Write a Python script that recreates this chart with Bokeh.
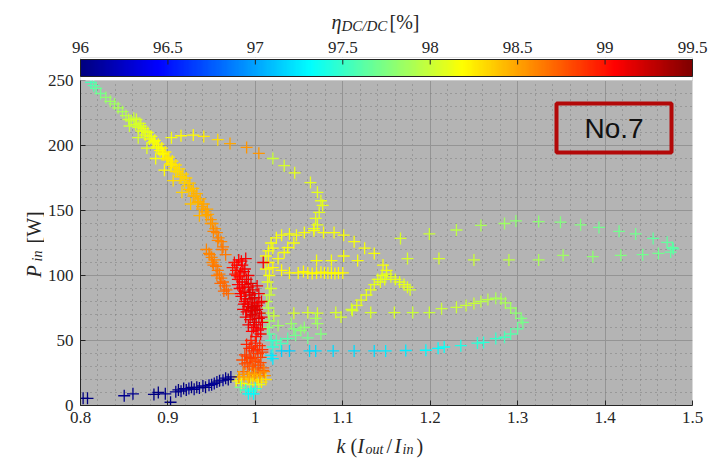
import numpy as np
from bokeh.plotting import figure
from bokeh.models import (LinearColorMapper, FixedTicker, NumeralTickFormatter, Label,
                          BoxAnnotation, ColumnDataSource, Range1d)
from bokeh.layouts import column, row
from bokeh.transform import linear_cmap
from bokeh.core.properties import value
from bokeh.embed import file_html
from bokeh.resources import INLINE

# ---------------- data (k = Iout/Iin, P_in [W], efficiency [%]) ----------------
tail_k = [0.803, 0.808, 0.850, 0.860, 0.884, 0.889, 0.897, 0.903, 0.909, 0.912, 0.915, 0.918, 0.921,
          0.924, 0.927, 0.930, 0.933, 0.936, 0.940, 0.943, 0.947, 0.950, 0.953, 0.956, 0.959, 0.963,
          0.966, 0.969, 0.972]
tail_p = [5.5, 5.5, 7.5, 9.0, 8.5, 10.0, 9.0, 2.5, 10.5, 12.0, 11.0, 13.0, 12.0, 13.0, 14.0, 12.5,
          14.0, 13.5, 15.0, 14.0, 15.5, 16.0, 17.0, 18.0, 19.0, 19.5, 21.0, 20.0, 22.0]
tail_eff = [96.0, 96.0, 96.05, 96.05, 96.0, 96.0, 96.05, 96.0, 96.05, 96.0, 96.05, 96.0, 96.05, 96.1,
            96.0, 96.05, 96.0, 96.1, 96.05, 96.0, 96.1, 96.05, 96.1, 96.05, 96.0, 96.1, 96.05, 96.0, 96.05]

top_k = [0.812, 0.815, 0.818, 0.823, 0.829, 0.834, 0.839, 0.843, 0.848, 0.852, 0.855]
top_p = [248.5, 246.0, 244.0, 240.0, 237.0, 234.0, 232.0, 229.0, 226.0, 223.0, 220.0]
top_eff = [97.55, 97.6, 97.65, 97.7, 97.8, 97.85, 97.85, 97.9, 97.9, 97.95, 98.0]

band_k = [0.858, 0.861, 0.863, 0.866, 0.868, 0.870, 0.872, 0.874, 0.877, 0.879, 0.881, 0.883, 0.885,
          0.887, 0.889, 0.891, 0.893, 0.895, 0.897, 0.899, 0.901, 0.903, 0.905, 0.907, 0.909, 0.911,
          0.913, 0.915, 0.917, 0.919, 0.921, 0.923, 0.925, 0.927, 0.929, 0.931, 0.933, 0.935, 0.937,
          0.939, 0.941, 0.943, 0.946, 0.949, 0.951, 0.954, 0.956, 0.958, 0.961, 0.963,
          0.947, 0.950, 0.951, 0.953, 0.955, 0.957, 0.959, 0.961, 0.963, 0.965, 0.967, 0.969]
band_p = [219, 221, 216, 214, 217, 211, 213, 208, 210, 205, 207, 202, 204, 199, 201, 196, 198, 193,
          195, 189, 191, 186, 188, 183, 185, 180, 182, 176, 178, 173, 175, 169, 171, 165, 167, 161,
          163, 157, 159, 153, 155, 149, 147, 143, 140, 136, 133, 129, 126, 122,
          117, 114, 110, 112, 107, 104, 101, 98, 95, 92, 89, 86]
band_eff = [98.0, 98.0, 98.05, 98.05, 98.05, 98.1, 98.1, 98.1, 98.1, 98.15, 98.15, 98.15, 98.15, 98.2,
            98.2, 98.2, 98.2, 98.2, 98.25, 98.25, 98.25, 98.25, 98.25, 98.3, 98.3, 98.3, 98.3,
            98.35, 98.35, 98.35, 98.35, 98.4, 98.4, 98.4, 98.4, 98.45, 98.45, 98.45, 98.45, 98.5, 98.5,
            98.5, 98.5, 98.55, 98.55, 98.55, 98.6, 98.6, 98.6, 98.65,
            98.6, 98.6, 98.6, 98.6, 98.65, 98.65, 98.65, 98.65, 98.7, 98.7, 98.7, 98.7]

band2_k = [0.864, 0.869, 0.874, 0.879, 0.884, 0.889, 0.894, 0.899, 0.904, 0.909, 0.914, 0.919, 0.924,
           0.929, 0.934, 0.939, 0.944, 0.949, 0.945, 0.952, 0.957, 0.962, 0.966,
           0.856, 0.866, 0.876, 0.886, 0.896, 0.906, 0.916, 0.926, 0.936,
           0.944, 0.948, 0.952, 0.956, 0.960, 0.964]
band2_p = [220, 215, 211, 207, 203, 198, 194, 190, 185, 180, 176, 171, 166, 161, 156, 151, 146, 140,
           151, 134, 127, 120, 116,
           215, 206, 198, 190, 181, 173, 164, 155, 146,
           120, 116, 108, 100, 94, 88]
band2_eff = [98.05, 98.05, 98.1, 98.1, 98.15, 98.15, 98.2, 98.25, 98.25, 98.3, 98.35, 98.35, 98.4,
             98.45, 98.45, 98.5, 98.5, 98.55, 98.5, 98.6, 98.6, 98.65, 98.65,
             98.0, 98.05, 98.1, 98.15, 98.2, 98.3, 98.35, 98.4, 98.45,
             98.6, 98.6, 98.65, 98.65, 98.7, 98.7]

red_k = [0.976, 0.981, 0.985, 1.009, 0.978, 0.983, 0.988, 0.992, 0.980, 0.985, 0.990, 0.995, 0.982,
         0.987, 0.992, 0.997, 1.002, 0.984, 0.989, 0.994, 0.999, 1.004, 0.987, 0.992, 0.997, 1.002,
         1.007, 0.990, 0.995, 1.000, 1.005, 0.994, 0.999, 1.004, 1.008, 0.998, 1.003, 1.006, 1.001,
         0.979, 0.996, 0.988,
         0.974, 0.979, 0.984, 0.989, 0.977, 0.982, 0.987, 0.980, 0.985, 0.983, 0.988, 0.993, 0.986,
         0.991, 0.996, 0.989, 0.994, 0.999, 1.004, 0.992, 0.997, 1.002, 1.007, 0.996, 1.001, 1.006]
red_p = [110, 112, 108, 110, 104, 102, 105, 100, 97, 95, 97, 94, 90, 88, 91, 89, 92, 84, 82, 85, 83,
         86, 78, 76, 79, 77, 80, 72, 70, 73, 71, 66, 64, 67, 64, 60, 58, 55, 53, 100, 75, 93,
         106, 108, 111, 113, 101, 99, 103, 93, 91, 86, 80, 87, 74, 78, 82, 68, 73, 76, 79, 62, 69,
         74, 68, 57, 62, 59]
red_eff = [99.0, 99.05, 99.05, 99.1, 99.0, 99.05, 99.1, 99.1, 99.05, 99.1, 99.1, 99.15, 99.05, 99.1,
           99.1, 99.15, 99.1, 99.05, 99.1, 99.15, 99.15, 99.1, 99.1, 99.15, 99.15, 99.15, 99.1, 99.1,
           99.15, 99.15, 99.15, 99.1, 99.15, 99.15, 99.1, 99.1, 99.1, 99.05, 99.0, 99.0, 99.2, 99.1,
           99.0, 99.05, 99.05, 99.1, 99.0, 99.05, 99.1, 99.05, 99.1, 99.05, 99.1, 99.15, 99.1, 99.1,
           99.15, 99.1, 99.15, 99.15, 99.1, 99.1, 99.15, 99.15, 99.1, 99.05, 99.1, 99.05]

base_k = [0.995, 1.000, 1.005, 0.993, 0.998, 1.003, 1.008, 0.990, 0.995, 1.000, 1.006, 0.988, 0.993,
          0.998, 1.004, 1.009, 0.986, 0.991, 0.996, 1.001, 1.006, 1.011, 0.982, 0.987, 0.992, 0.997,
          1.002, 1.007, 1.012, 0.978, 0.984, 0.994, 1.004, 0.983, 0.989, 0.995, 1.000, 0.992, 0.998,
          0.990, 0.996, 1.002, 1.008, 0.985, 0.991, 0.997, 1.003, 1.009, 0.988, 0.994, 1.000, 1.006,
          0.981, 0.987, 0.993, 0.999, 1.005, 1.010]
base_p = [50, 48, 46, 44, 42, 40, 43, 38, 36, 34, 37, 32, 30, 28, 31, 29, 26, 24, 25, 23, 25, 23, 22,
          20, 21, 19, 20, 18, 20, 19, 17, 16, 16, 14, 12, 11, 13, 9, 9,
          47, 45, 43, 41, 35, 33, 31, 29, 27, 39, 37, 35, 33, 22, 24, 22, 24, 22, 26]
base_eff = [98.95, 98.95, 98.9, 98.9, 98.9, 98.85, 98.9, 98.85, 98.85, 98.8, 98.85, 98.8, 98.75, 98.75,
            98.8, 98.75, 98.7, 98.65, 98.6, 98.6, 98.6, 98.55, 98.45, 98.4, 98.35, 98.3, 98.3, 98.25,
            98.3, 98.2, 98.15, 98.1, 98.1, 97.7, 97.5, 97.4, 97.5, 97.3, 97.3,
            98.95, 98.9, 98.9, 98.85, 98.8, 98.8, 98.75, 98.75, 98.7, 98.85, 98.85, 98.8, 98.8, 98.5,
            98.55, 98.5, 98.5, 98.5, 98.6]

stem_k = [1.014, 1.018, 1.016, 1.013, 1.015, 1.015, 1.016, 1.014, 1.016, 1.018, 1.020, 1.018, 1.020]
stem_p = [95, 90, 85, 80, 75, 71, 65, 60, 55, 50, 45, 38.5, 36]
stem_eff = [98.1, 98.05, 98.0, 97.95, 97.95, 97.95, 97.85, 97.8, 97.65, 97.5, 97.45, 97.25, 97.25]

mid_k = [1.026, 1.041, 1.052, 1.056, 1.060, 1.046, 1.037, 1.029, 1.024, 1.071, 1.075, 1.069, 1.044]
mid_p = [61.5, 63, 57.7, 60, 52, 54, 51.5, 47.7, 50, 63, 55, 67, 59]
mid_eff = [97.85, 97.85, 97.8, 97.8, 97.7, 97.7, 97.6, 97.55, 97.6, 97.85, 97.75, 97.9, 97.75]

low_k = [1.030, 1.039, 1.062, 1.069, 1.089, 1.113, 1.136, 1.149, 1.172, 1.195, 1.209, 1.216, 1.235,
         1.254, 1.261, 1.275, 1.285, 1.292, 1.300, 1.306, 1.304, 1.298, 1.292, 1.286, 1.281, 1.275,
         1.266, 1.258, 1.250, 1.241, 1.230, 1.213, 1.199, 1.180, 1.159, 1.132, 1.111, 1.098, 1.092,
         1.071, 1.060, 1.044, 1.021]
low_p = [42, 42, 42, 42, 42, 42, 42, 42, 42.3, 42.5, 44, 45, 46, 48, 48.5, 51.5, 52.5, 55, 59, 64, 67,
         71, 75, 79, 82, 82.5, 81.5, 80, 78.5, 77, 75.5, 74.5, 71.5, 71.5, 71.5, 71.5, 73, 68, 71.5,
         71, 71.5, 71, 69]
low_eff = [97.15, 97.15, 97.2, 97.2, 97.2, 97.2, 97.2, 97.25, 97.25, 97.3, 97.3, 97.35, 97.4, 97.45,
           97.45, 97.5, 97.55, 97.6, 97.65, 97.7, 97.75, 97.8, 97.85, 97.9, 97.9, 97.9, 97.95, 97.95,
           98.0, 98.0, 98.0, 98.0, 98.0, 98.0, 98.05, 98.05, 98.05, 98.05, 98.05, 98.05, 98.05, 98.05,
           98.0]

hump_k = [1.140, 1.145, 1.150, 1.155, 1.160, 1.165, 1.170, 1.174, 1.177, 1.143, 1.148, 1.136, 1.132,
          1.127, 1.121, 1.116, 1.110]
hump_p = [97, 100, 101, 99, 97, 95, 93, 91, 89, 95, 97, 93, 89, 85, 81, 77, 74]
hump_eff = [98.1, 98.1, 98.1, 98.1, 98.1, 98.1, 98.1, 98.1, 98.05, 98.1, 98.1, 98.1, 98.1, 98.1, 98.1,
            98.1, 98.05]

midloop_k = [1.012, 1.015, 1.018, 1.024, 1.030, 1.039, 1.047, 1.056, 1.067, 1.078, 1.090, 1.101,
             1.113, 1.125, 1.136, 1.146, 1.150,
             1.015, 1.020, 1.030, 1.039, 1.049, 1.055, 1.060, 1.065, 1.070, 1.075, 1.079, 1.083,
             1.087, 1.091, 1.095, 1.100,
             1.037, 1.044, 1.033, 1.026, 1.070, 1.087, 1.101, 1.117, 1.020, 1.012, 1.016]
midloop_p = [115, 119, 125, 129, 131, 132, 131, 133, 134.5, 133, 133, 131, 126, 121, 117, 108, 104,
             110, 106, 104, 102, 102, 103, 102, 101.5, 102, 102.5, 102, 102, 102, 101.5, 102, 102,
             121.5, 125, 117.7, 113, 111.5, 111.5, 115, 111.5, 121, 105, 100]
midloop_eff = [98.15] * 17 + [98.2] * 16 + [98.15] * 11

right_k = [1.166, 1.199, 1.230, 1.258, 1.285, 1.298, 1.324, 1.349, 1.372, 1.393, 1.416, 1.435, 1.455,
           1.471, 1.477, 1.478,
           1.475, 1.461, 1.443, 1.418, 1.386, 1.352, 1.324, 1.290, 1.250, 1.210, 1.174]
right_p = [128.5, 132, 135, 138.5, 140, 142, 141.5, 141, 139, 137, 134, 132, 128.5, 125.5, 121.5,
           120.5,
           118, 117, 116, 115.5, 114.5, 115.5, 112, 112, 112, 113, 113]
right_eff = [98.05, 98.0, 97.95, 97.9, 97.85, 97.8, 97.8, 97.75, 97.75, 97.7, 97.7, 97.7, 97.65, 97.65,
             97.65, 97.6,
             97.65, 97.7, 97.7, 97.75, 97.8, 97.85, 97.9, 97.95, 98.0, 98.05, 98.05]

upper_k = [0.904, 0.915, 0.929, 0.941, 0.957, 0.971, 0.990, 1.004, 1.020, 1.033, 1.045, 1.063, 1.071,
           1.075, 1.077, 1.073, 1.069, 1.071, 1.067]
upper_p = [206, 207.5, 208, 207, 204.5, 201.5, 198.5, 194, 190, 184.5, 179, 171.5, 164, 157.5, 154,
           148.5, 144, 139, 136]
upper_eff = [98.15, 98.2, 98.2, 98.25, 98.3, 98.5, 98.55, 98.55, 98.0, 98.05, 98.1, 98.1, 98.1, 98.1,
             98.1, 98.1, 98.1, 98.1, 98.1]

cbar_ticks = [96, 96.5, 97, 97.5, 98, 98.5, 99, 99.5]
x_ticks = [0.8, 0.9, 1.0, 1.1, 1.2, 1.3, 1.4, 1.5]
y_ticks = [0, 50, 100, 150, 200, 250]
EFF_LO, EFF_HI = 96.0, 99.5
K_LO, K_HI = 0.8, 1.5
P_LO, P_HI = 0, 250


# ---------------- styling helpers ----------------
def jet(n=256):
    cols = []
    for i in range(n):
        v = i / (n - 1)
        r = min(max(1.5 - abs(4 * v - 3), 0), 1)
        g = min(max(1.5 - abs(4 * v - 2), 0), 1)
        b = min(max(1.5 - abs(4 * v - 1), 0), 1)
        cols.append("#%02x%02x%02x" % (round(r * 255), round(g * 255), round(b * 255)))
    return cols


JET = jet()
mapper = LinearColorMapper(palette=JET, low=EFF_LO, high=EFF_HI)
SERIF = "Liberation Serif"
TXT = "#262626"

# layout geometry (window pixels)
FL, FR = 80, 692          # plot frame left / right
FT, FB = 80, 405          # plot area top / bottom (P = 250 / 0)
TOP_H = 57                # strip above the main figure (colour-bar labels, title)
MAIN_TOP = 57             # main figure frame top (colour bar drawn inside it)
MAIN_BOT_BORDER = 24
YL_W = 44
XL_H = 462 - (FB + MAIN_BOT_BORDER)
PX_PER_P = (FB - FT) / (P_HI - P_LO)
P_TOP = P_LO + (FB - MAIN_TOP) / PX_PER_P
EPS = (EFF_HI - EFF_LO) / (FR - FL)   # eff units per pixel


def bare(w, h, xr, yr):
    f = figure(frame_width=w, frame_height=h, x_range=xr, y_range=yr, output_backend="svg",
               toolbar_location=None, x_axis_type=None, y_axis_type=None, min_border=0,
               outline_line_color=None, background_fill_color="white", border_fill_color="white")
    f.grid.visible = False
    return f


def add_parts(fig, parts, angle=0.0):
    for txt, x, y, size, style in parts:
        fig.add_layout(Label(x=x, y=y, text=txt, text_font=SERIF, text_font_size=size,
                             text_font_style=style, text_color=TXT, text_align="left",
                             text_baseline="alphabetic", angle=angle))


# ---------------- top strip: colour-bar tick labels and title ----------------
top = bare(715, TOP_H, Range1d(EFF_LO - FL * EPS, EFF_HI + (715 - FR) * EPS), Range1d(0, TOP_H))
top.text(x=cbar_ticks, y=[TOP_H - 47] * len(cbar_ticks), text=[f"{t:g}" for t in cbar_ticks],
         text_font=value(SERIF), text_font_size="17px", text_color=TXT, text_align="center",
         text_baseline="alphabetic")


def ex(px):
    return EFF_LO + (px - FL) * EPS


add_parts(top, [("η", ex(331), TOP_H - 21, "20px", "italic"),
                ("DC/DC", ex(341), TOP_H - 25, "15px", "italic"),
                ("[%]", ex(389), TOP_H - 21, "20px", "normal")])

# ---------------- main scatter figure ----------------
p = figure(frame_width=FR - FL, frame_height=FB - MAIN_TOP, x_range=(K_LO, K_HI), y_range=(P_LO, P_TOP),
           output_backend="svg", toolbar_location=None,
           min_border_left=FL - YL_W, min_border_right=715 - FR, min_border_top=0,
           min_border_bottom=MAIN_BOT_BORDER,
           background_fill_color="#b4b4b4", border_fill_color="white", outline_line_color=None)
p.extra_x_ranges = {"eff": Range1d(EFF_LO, EFF_HI)}

xt = FixedTicker(ticks=x_ticks, minor_ticks=[round(K_LO + 0.02 * i, 2) for i in range(36)])
yt = FixedTicker(ticks=y_ticks, minor_ticks=list(range(0, 251, 10)))
p.xaxis.ticker = xt
p.yaxis.ticker = yt
p.xgrid.ticker = xt
p.ygrid.ticker = yt
p.yaxis.bounds = (P_LO, P_HI)
p.xaxis.formatter = NumeralTickFormatter(format="0.[0]")
for g in (p.xgrid, p.ygrid):
    g.grid_line_color = "#949494"
    g.grid_line_width = 1
    g.minor_grid_line_color = "#7c7c7c"
    g.minor_grid_line_dash = "1 4"
    g.minor_grid_line_width = 1
for ax in (p.xaxis, p.yaxis):
    ax.axis_line_color = "#262626"
    ax.major_tick_in = 5
    ax.major_tick_out = 0
    ax.minor_tick_in = 0
    ax.minor_tick_out = 0
    ax.major_tick_line_color = "#262626"
    ax.major_label_text_font = SERIF
    ax.major_label_text_font_size = "17px"
    ax.major_label_text_color = TXT
p.xaxis.major_label_standoff = 6
p.yaxis.major_label_standoff = 7

all_k = (upper_k + midloop_k + right_k + hump_k + low_k + mid_k + stem_k + top_k + band_k + band2_k +
         base_k + red_k + tail_k)
all_p = (upper_p + midloop_p + right_p + hump_p + low_p + mid_p + stem_p + top_p + band_p + band2_p +
         base_p + red_p + tail_p)
all_e = (upper_eff + midloop_eff + right_eff + hump_eff + low_eff + mid_eff + stem_eff + top_eff +
         band_eff + band2_eff + base_eff + red_eff + tail_eff)
src = ColumnDataSource(dict(k=all_k, p=all_p, eff=all_e))
p.scatter("k", "p", source=src, marker="cross", size=12, line_width=1.3,
          line_color=linear_cmap("eff", JET, EFF_LO, EFF_HI))

# white strip above the axes (hides grid there; colour bar sits on it)
p.add_layout(BoxAnnotation(bottom=P_HI, fill_color="white", fill_alpha=1, line_alpha=0))

# colour bar inside the top strip of the main frame
bar_b = (FB - 76) / PX_PER_P
bar_t = (FB - 59) / PX_PER_P
p.image(image=[np.linspace(EFF_LO, EFF_HI, 256).reshape(1, 256)], x=EFF_LO, y=bar_b,
        dw=EFF_HI - EFF_LO, dh=bar_t - bar_b, color_mapper=mapper, x_range_name="eff", level="overlay")
p.segment(x0=cbar_ticks, y0=[bar_t] * len(cbar_ticks), x1=cbar_ticks,
          y1=[bar_t - 5 / PX_PER_P] * len(cbar_ticks), line_color="#222222", line_width=1,
          x_range_name="eff", level="overlay")
p.quad(left=[EFF_LO], right=[EFF_HI], bottom=[bar_b], top=[bar_t], fill_color=None,
       line_color="#222222", line_width=1, x_range_name="eff", level="overlay")


def mx(px):
    return K_LO + (px - FL) * (K_HI - K_LO) / (FR - FL)


def my(py):
    return (FB - py) / PX_PER_P


# "No.7" box
p.add_layout(BoxAnnotation(left=mx(556), right=mx(671), top=my(103), bottom=my(152),
                           fill_alpha=0, line_color="#b30808", line_alpha=1, line_width=4))
p.add_layout(Label(x=mx(613.5), y=my(128), text="No.7", text_font="Liberation Sans",
                   text_font_size="28px", text_color="#111111", text_align="center",
                   text_baseline="middle"))

# ---------------- y label strip: P_in [W] ----------------
ylab_h = FB + MAIN_BOT_BORDER - MAIN_TOP
ylab = bare(YL_W, ylab_h, Range1d(0, YL_W), Range1d(0, ylab_h))
ybase = FB + MAIN_BOT_BORDER
add_parts(ylab, [("P", 33, ybase - 277, "20px", "italic"),
                 ("in", 37, ybase - 261, "14px", "italic"),
                 ("[W]", 33, ybase - 243, "20px", "normal")], angle=np.pi / 2)

# ---------------- x label strip: k (I_out/I_in) ----------------
xlab = bare(715, XL_H, Range1d(0, 715), Range1d(0, XL_H))
add_parts(xlab, [("k", 336, 462 - 445, "20px", "italic"),
                 ("(", 350, 462 - 445, "20px", "normal"),
                 ("I", 357, 462 - 445, "20px", "italic"),
                 ("out", 365, 462 - 449, "14px", "italic"),
                 ("/", 386, 462 - 445, "20px", "normal"),
                 ("I", 394, 462 - 445, "20px", "italic"),
                 ("in", 402, 462 - 449, "14px", "italic"),
                 (")", 416, 462 - 445, "20px", "normal")])

layout = column(top, row(ylab, p, spacing=0), xlab, spacing=0)
open("out.html", "w").write(file_html(layout, INLINE))
